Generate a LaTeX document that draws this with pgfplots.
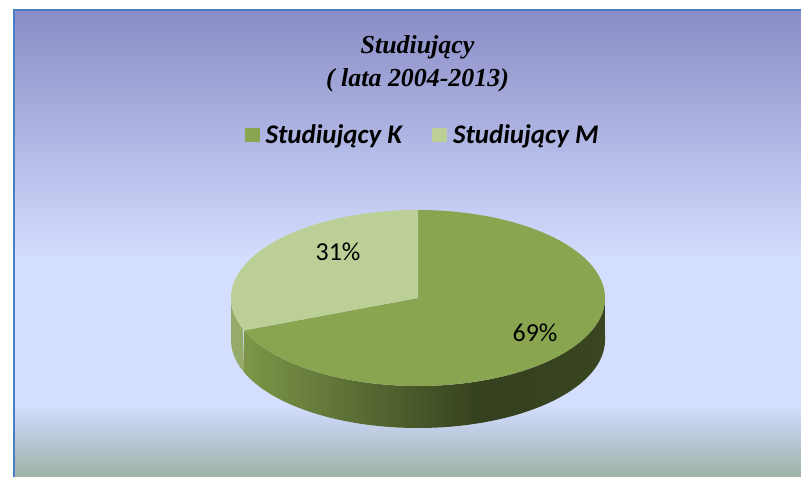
\documentclass[border=0pt]{standalone}
\usepackage{pgfplots}
\pgfplotsset{compat=1.18}
\usepackage{pgfplotstable}
\usepackage{fontspec}
\setmainfont{Liberation Serif}
\newfontfamily\carlito{Carlito}

\definecolor{bgtop}{RGB}{138,140,198}
\definecolor{bgmid}{RGB}{212,222,255}
\definecolor{bgc2}{RGB}{192,205,228}
\definecolor{bgbot}{RGB}{158,178,165}
\definecolor{framec}{RGB}{74,126,196}
\definecolor{colK}{RGB}{138,165,80}
\definecolor{colM}{RGB}{187,207,150}
\definecolor{sideA}{RGB}{125,150,72}
\definecolor{sideB}{RGB}{52,64,30}
\definecolor{sideC}{RGB}{58,70,33}
\definecolor{sideM}{RGB}{150,170,105}

\pgfdeclarehorizontalshading{sideshade}{100bp}{color(0bp)=(sideA); color(25bp)=(sideA); color(58bp)=(sideB); color(75bp)=(sideC); color(100bp)=(sideC)}

\pgfplotstableread{
name value
K 69
M 31
}\piedata
\pgfplotstablegetelem{0}{value}\of\piedata \let\vK\pgfplotsretval
\pgfplotstablegetelem{1}{value}\of\piedata \let\vM\pgfplotsretval
\pgfmathsetmacro\tot{\vK+\vM}
\pgfmathsetmacro\aEnd{90+360*\vM/\tot}
\pgfmathsetmacro\aKstart{\aEnd-360}

\begin{document}
\begin{tikzpicture}
\path[use as bounding box] (0,0) rectangle (801bp,477bp);
\fill[white] (0,0) rectangle (801bp,477bp);
\fill[top color=bgtop, bottom color=bgmid] (14bp,217bp) rectangle (801bp,467bp);
\fill[bgmid] (14bp,72bp) rectangle (801bp,217.3bp);
\fill[top color=bgmid, bottom color=bgc2] (14bp,47bp) rectangle (801bp,72.3bp);
\fill[top color=bgc2, bottom color=bgbot] (14bp,0bp) rectangle (801bp,47.3bp);
\draw[framec, line width=2bp] (14bp,0bp) -- (14bp,467bp) -- (801bp,467bp);
\begin{axis}[
  at={(0,0)}, anchor=south west, scale only axis,
  width=801bp, height=477bp,
  xmin=0, xmax=801, ymin=0, ymax=477,
  hide axis, clip=false,
  legend columns=2,
  legend cell align=left,
  legend style={at={(0.5275,0.717)}, anchor=center, draw=none, fill=none,
    font=\carlito\bfseries\itshape\fontsize{27}{31}\selectfont,
    inner sep=0pt,
    /tikz/every even column/.append style={column sep=28bp}},
  legend image code/.code={\fill[#1] (0bp,-7bp) rectangle (15bp,7bp); \path (19bp,0bp);},
]
% side walls: bottom arc forward (t in [0,1]), top arc backward (t in [1,2])
\addplot[forget plot, shading=sideshade, draw=none, domain=0:2, samples=201]
  ({418+187*cos(x<=1 ? \aEnd+x*(360-\aEnd) : 360-(x-1)*(360-\aEnd))},
   {(x<=1 ? 137 : 179)+88*sin(x<=1 ? \aEnd+x*(360-\aEnd) : 360-(x-1)*(360-\aEnd))}) -- cycle;
\addplot[forget plot, fill=sideM, draw=none, domain=0:2, samples=41]
  ({418+187*cos(x<=1 ? 180+x*(\aEnd-180) : \aEnd-(x-1)*(\aEnd-180))},
   {(x<=1 ? 137 : 179)+88*sin(x<=1 ? 180+x*(\aEnd-180) : \aEnd-(x-1)*(\aEnd-180))}) -- cycle;
% top faces
\addplot[fill=colK, draw=none, domain=\aKstart:90, samples=120] ({418+187*cos(x)},{179+88*sin(x)}) -- (axis cs:418,179) -- cycle;
\addlegendentry{Studiujący K}
\addplot[fill=colM, draw=none, domain=90:\aEnd, samples=60] ({418+187*cos(x)},{179+88*sin(x)}) -- (axis cs:418,179) -- cycle;
\addlegendentry{Studiujący M}
% labels
\node[inner sep=0pt, font=\carlito\fontsize{26}{30}\selectfont] at (axis cs:338,225) {\vM\%};
\node[inner sep=0pt, font=\carlito\fontsize{26}{30}\selectfont] at (axis cs:535,144) {\vK\%};
% title
\node[anchor=base, inner sep=0pt, font=\bfseries\itshape\fontsize{26}{30}\selectfont] at (axis cs:417.5,423) {Studiujący};
\node[anchor=base, inner sep=0pt, font=\bfseries\itshape\fontsize{26}{30}\selectfont] at (axis cs:417.5,390) {( lata 2004-2013)};
\end{axis}
\end{tikzpicture}
\end{document}
